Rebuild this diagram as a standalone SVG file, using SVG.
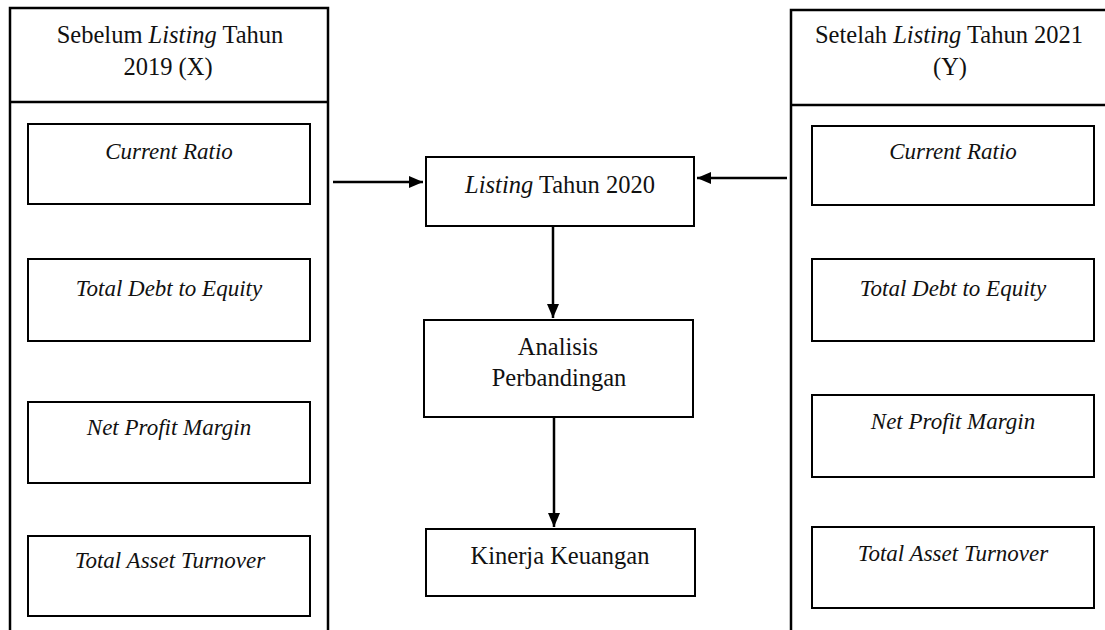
<svg xmlns="http://www.w3.org/2000/svg" width="1105" height="630" viewBox="0 0 1105 630">
<style>
.b{fill:#fff;stroke:#000;stroke-width:2}
.o{fill:none;stroke:#000;stroke-width:2.5}
.t{font-family:"Liberation Serif","Times New Roman",serif;font-size:24.5px;fill:#111;text-anchor:middle}
.i{font-style:italic}
.m{font-size:23px}
.c{stroke:#000;stroke-width:2.5;fill:none}
</style>
<defs>
<marker id="ah" viewBox="0 0 14 12" refX="14" refY="6" markerWidth="14" markerHeight="12" markerUnits="userSpaceOnUse" orient="auto">
<path d="M0,0 L14,6 L0,12 Z" fill="#000"/>
</marker>
</defs>
<rect width="1105" height="630" fill="#fff"/>

<g id="left-column">
<path class="o" d="M10,640 V8 H328 V640 M10,102 H328"/>
<text class="t" x="170" y="43">Sebelum <tspan class="i">Listing</tspan> Tahun</text>
<text class="t" x="168" y="75">2019 (X)</text>
</g>
<g id="left-cr"><rect class="b" x="28" y="124" width="282" height="80"/><text class="t i m" x="169" y="159">Current Ratio</text></g>
<g id="left-tde"><rect class="b" x="28" y="259" width="282" height="82"/><text class="t i m" x="169" y="296">Total Debt to Equity</text></g>
<g id="left-npm"><rect class="b" x="28" y="402" width="282" height="81"/><text class="t i m" x="169" y="435">Net Profit Margin</text></g>
<g id="left-tat"><rect class="b" x="28" y="536" width="282" height="80"/><text class="t i m" x="170" y="568">Total Asset Turnover</text></g>

<g id="right-column">
<path class="o" d="M1115,10 H791 V640 M791,105 H1115"/>
<text class="t" x="949" y="43">Setelah <tspan class="i">Listing</tspan> Tahun 2021</text>
<text class="t" x="950" y="75">(Y)</text>
</g>
<g id="right-cr"><rect class="b" x="812" y="126" width="282" height="79"/><text class="t i m" x="953" y="159">Current Ratio</text></g>
<g id="right-tde"><rect class="b" x="812" y="259" width="282" height="82"/><text class="t i m" x="953" y="296">Total Debt to Equity</text></g>
<g id="right-npm"><rect class="b" x="812" y="395" width="282" height="82"/><text class="t i m" x="953" y="429">Net Profit Margin</text></g>
<g id="right-tat"><rect class="b" x="812" y="527" width="282" height="81"/><text class="t i m" x="953" y="561">Total Asset Turnover</text></g>

<g id="listing"><rect class="b" x="426" y="157" width="268" height="69"/><text class="t" x="560" y="193"><tspan class="i">Listing</tspan> Tahun 2020</text></g>
<g id="analisis"><rect class="b" x="424" y="320" width="269" height="97"/><text class="t" x="558" y="355">Analisis</text><text class="t" x="559" y="386">Perbandingan</text></g>
<g id="kinerja"><rect class="b" x="426" y="529" width="269" height="67"/><text class="t" x="560" y="564">Kinerja Keuangan</text></g>

<g id="connectors">
<line class="c" x1="333" y1="182" x2="423" y2="182" marker-end="url(#ah)"/>
<line class="c" x1="787" y1="178" x2="697" y2="178" marker-end="url(#ah)"/>
<line class="c" x1="553" y1="226" x2="553" y2="318" marker-end="url(#ah)"/>
<line class="c" x1="554" y1="417" x2="554" y2="527" marker-end="url(#ah)"/>
</g>
</svg>
